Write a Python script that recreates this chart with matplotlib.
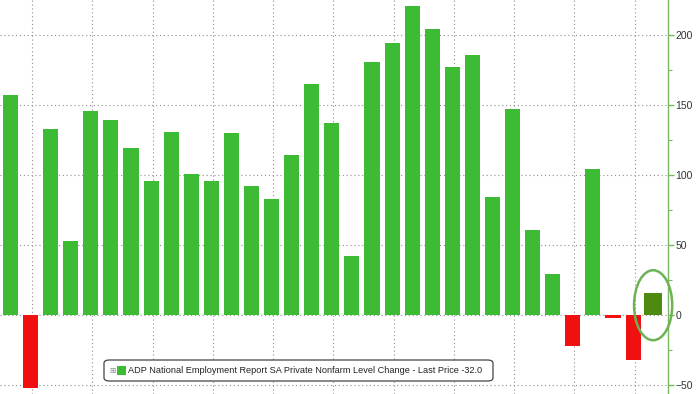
import numpy as np
import matplotlib
matplotlib.use('Agg')
import matplotlib.pyplot as plt
from matplotlib.patches import Ellipse, FancyBboxPatch, Rectangle

# monthly ADP private payroll change (thousands), last one is the estimate
values = [157, -52, 133, 53, 146, 139, 119, 96, 131, 101, 96, 130, 92, 83, 114,
          165, 137, 42, 181, 194, 221, 204, 177, 186, 84, 147, 61, 29, -22, 104,
          -2, -32]
estimate = 16
y_ticks = [-50, 0, 50, 100, 150, 200]
legend_label = 'ADP National Employment Report SA Private Nonfarm Level Change - Last Price -32.0'

GREEN = '#3dbb35'
RED = '#f01010'
DARK_GREEN = '#4f8a10'
SPINE = '#78b862'
FONT = ['Liberation Sans', 'DejaVu Sans']


def fig_xy(px, py):
    """pixel position in the 700x394 image -> figure fraction"""
    return px / 700, 1 - py / 394


def draw_legend(fig):
    x0, y0 = fig_xy(104, 381)
    x1, y1 = fig_xy(493, 360)
    fig.patches.append(FancyBboxPatch((x0, y0), x1 - x0, y1 - y0,
                                      boxstyle='round,pad=0,rounding_size=0.008',
                                      transform=fig.transFigure, facecolor='white',
                                      edgecolor='#444444', linewidth=0.9, zorder=5))
    sx, sy = fig_xy(117, 375)
    fig.patches.append(Rectangle((sx, sy), 9 / 700, 9 / 394, transform=fig.transFigure,
                                 facecolor=GREEN, edgecolor='none', zorder=6))
    ix, iy = fig_xy(112, 370.5)
    fig.text(ix, iy, '\u229e', fontsize=5.5, color='#888888', ha='center', va='center',
             family=['DejaVu Sans'], zorder=6)
    tx, ty = fig_xy(128, 370.5)
    fig.text(tx, ty, legend_label, fontsize=6.6, color='#222222', ha='left', va='center',
             family=FONT, zorder=6)


fig = plt.figure(figsize=(7, 3.94), dpi=100)
ax = fig.add_axes([0, 0, 668 / 700, 1])

x = np.arange(len(values))
colors = [GREEN if v >= 0 else RED for v in values]
ax.bar(x, values, width=0.75, color=colors, zorder=3)
ax.bar(len(values), estimate, width=0.9, color=DARK_GREEN, zorder=3)

# circle round the estimate bar
ax.add_patch(Ellipse((len(values), 7), 1.9, 50, fill=False, edgecolor='#6db356',
                     linewidth=1.8, zorder=4, clip_on=False))

ax.set_xlim(-0.523, 32.74)
ax.set_ylim(-56.4, 225)

# dotted grid, vertical lines every third bar
ax.set_xticks(np.arange(1, len(values), 3) + 0.08)
ax.set_yticks(y_ticks)
ax.set_yticks(np.arange(-25, 225, 50), minor=True)
ax.grid(True, which='major', linestyle=(0, (1, 2.5)), color='#8f8f8f', linewidth=0.8, zorder=0)

ax.yaxis.tick_right()
ax.tick_params(axis='x', length=0, labelbottom=False)
ax.tick_params(axis='y', which='major', direction='out', length=4, width=1,
               color=SPINE, labelsize=7.5, labelcolor='#333333', pad=1.5)
ax.tick_params(axis='y', which='minor', direction='out', length=3, width=0.8, color=SPINE)
for lab in ax.get_yticklabels():
    lab.set_family(FONT)

for side in ['top', 'left', 'bottom']:
    ax.spines[side].set_visible(False)
ax.spines['right'].set_color(SPINE)
ax.spines['right'].set_linewidth(1)

draw_legend(fig)

fig.savefig('out.png', dpi=100)
